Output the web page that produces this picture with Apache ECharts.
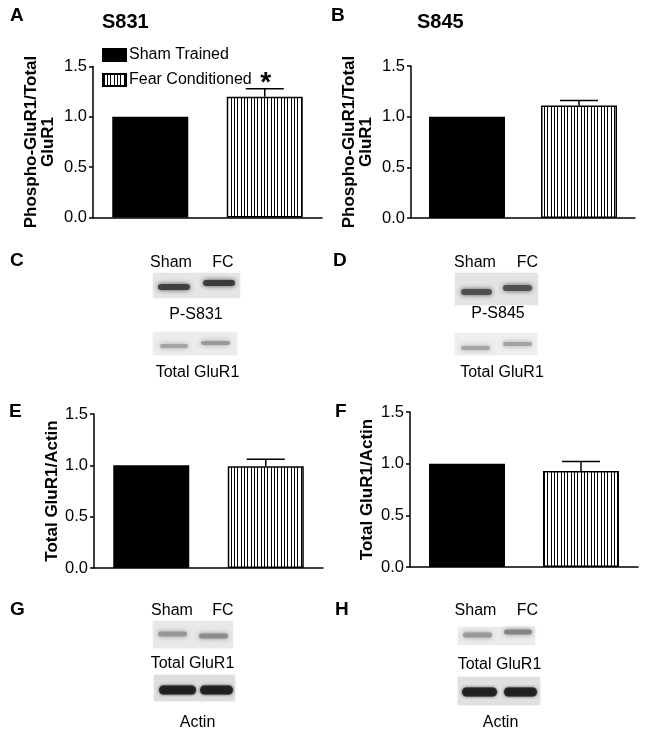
<!DOCTYPE html>
<html><head><meta charset="utf-8">
<script src="https://cdn.jsdelivr.net/npm/echarts@6/dist/echarts.min.js"></script>
<style>html,body{margin:0;padding:0;background:#fff}#c{width:649px;height:739px}</style>
</head><body><div id="c"></div><script>
// ---- data ----
const categories = ['Sham Trained', 'Fear Conditioned'];
const yTickLabels = ['0.0', '0.5', '1.0', '1.5'];
const panelLetters = ['A', 'B', 'C', 'D', 'E', 'F', 'G', 'H'];
const chartTitles = ['S831', 'S845'];
const yNames = ['Phospho-GluR1/Total\nGluR1', 'Phospho-GluR1/Total\nGluR1', 'Total GluR1/Actin', 'Total GluR1/Actin'];
// A: S831 phospho / total
const meanA = [1.0, 1.2];
const errA = [0, 0.08];
const sigA = ['', '*'];
// B: S845 phospho / total
const meanB = [1.0, 1.11];
const errB = [0, 0.05];
const sigB = ['', ''];
// E: total GluR1 / actin (S831 set)
const meanE = [1.0, 0.99];
const errE = [0, 0.07];
const sigE = ['', ''];
// F: total GluR1 / actin (S845 set)
const meanF = [1.0, 0.93];
const errF = [0, 0.09];
const sigF = ['', ''];
const laneLabels = ['Sham', 'FC'];

const FONT = '"Liberation Sans", Arial, Helvetica, sans-serif';

// hatch pattern
const hc = document.createElement('canvas'); hc.width = 10; hc.height = 10;
const hg = hc.getContext('2d');
hg.fillStyle = '#fff'; hg.fillRect(0, 0, 10, 10);
hg.fillStyle = '#000'; [1, 4, 7].forEach(x => hg.fillRect(x, 0, 1, 10));

const panels = [
  {mean: meanA, err: errA, sig: sigA, gap: 36, grid: {left: 93, top: 66.5, width: 229, height: 151}},
  {mean: meanB, err: errB, sig: sigB, gap: 36, grid: {left: 411, top: 66, width: 224, height: 152}},
  {mean: meanE, err: errE, sig: sigE, gap: 33, grid: {left: 94, top: 414, width: 229, height: 154}},
  {mean: meanF, err: errF, sig: sigF, gap: 34, grid: {left: 410, top: 412, width: 228, height: 155}}
];

const grids = [], xAxes = [], yAxes = [], series = [];
panels.forEach((p, i) => {
  grids.push(Object.assign({containLabel: false}, p.grid));
  xAxes.push({
    type: 'category', gridIndex: i, data: categories, boundaryGap: true,
    axisLine: {show: true, onZero: false, lineStyle: {color: '#000', width: 1.5}},
    axisTick: {show: false}, axisLabel: {show: false}, splitLine: {show: false}
  });
  yAxes.push({
    type: 'value', gridIndex: i, min: 0, max: 1.5, interval: 0.5,
    axisLine: {show: true, lineStyle: {color: '#000', width: 1.5}},
    axisTick: {show: true, inside: false, length: 4, lineStyle: {color: '#000', width: 1.5}},
    splitLine: {show: false},
    axisLabel: {color: '#000', fontSize: 16.5, fontFamily: FONT, margin: 6,
      formatter: v => yTickLabels[Math.round(v / 0.5)]},
    name: yNames[i], nameLocation: 'middle', nameRotate: 90, nameGap: p.gap,
    nameTextStyle: {color: '#000', fontSize: 17, fontWeight: 'bold', fontFamily: FONT, lineHeight: 17}
  });
  series.push({
    type: 'bar', name: categories[0], xAxisIndex: i, yAxisIndex: i,
    data: [p.mean[0], '-'], barWidth: 76, barGap: '-100%',
    itemStyle: {color: '#000', borderColor: '#000', borderWidth: 1.5},
    emphasis: {disabled: true}, animation: false
  });
  series.push({
    type: 'bar', name: categories[1], xAxisIndex: i, yAxisIndex: i,
    data: ['-', p.mean[1]], barWidth: 76, barGap: '-100%',
    itemStyle: {color: {image: hc, repeat: 'repeat'}, borderColor: '#000', borderWidth: 1.5},
    emphasis: {disabled: true}, animation: false
  });
  series.push({
    type: 'custom', xAxisIndex: i, yAxisIndex: i, silent: true, animation: false,
    data: p.mean.map((m, j) => [j, m, p.err[j]]),
    renderItem: (params, api) => {
      const j = api.value(0), m = api.value(1), e = api.value(2);
      const sig = p.sig[j];
      const children = [];
      const base = api.coord([j, m]);
      const top = api.coord([j, m + e]);
      if (e > 0) {
        const half = 19;
        children.push({type: 'line', shape: {x1: top[0], y1: base[1], x2: top[0], y2: top[1]},
          style: {stroke: '#000', lineWidth: 1.5}});
        children.push({type: 'line', shape: {x1: top[0] - half, y1: top[1], x2: top[0] + half, y2: top[1]},
          style: {stroke: '#000', lineWidth: 1.5}});
      }
      if (sig) {
        children.push({type: 'text', x: top[0] + 1, y: top[1] - 5,
          style: {text: sig, fill: '#000', font: 'bold 28px ' + FONT, textAlign: 'center', textVerticalAlign: 'middle'}});
      }
      return {type: 'group', children};
    }
  });
});

// ---- decorative text & blot images ----
const gfx = [];
function txt(t, x, y, size, bold, align) {
  gfx.push({type: 'text', x, y, silent: true,
    style: {text: t, fill: '#000', font: (bold ? 'bold ' : '') + size + 'px ' + FONT,
      textAlign: align || 'center', textVerticalAlign: 'middle'}});
}
function blot(x, y, w, h, bg, bands) {
  gfx.push({type: 'rect', silent: true, shape: {x, y, width: w, height: h},
    style: {fill: bg, shadowBlur: 2, shadowColor: bg}});
  bands.forEach(b => {
    gfx.push({type: 'rect', silent: true,
      shape: {x: b[0], y: b[1] - b[3] / 2, width: b[2], height: b[3], r: b[3] / 2},
      style: {fill: b[4], shadowBlur: b[5] || 5, shadowColor: b[4], opacity: 0.9}});
  });
}
// panel letters
[[10, 16], [331, 16], [10, 261], [333, 261], [9, 412], [335, 412], [10, 610], [335, 610]].forEach((p, k) => {
  txt(panelLetters[k], p[0], p[1], 19, true, 'left');
});
// titles
txt(chartTitles[0], 102, 22, 20, true, 'left');
txt(chartTitles[1], 417, 22, 20, true, 'left');

// C
blot(153, 273, 87, 25, '#e6e6e6', [[158, 287, 32, 6, '#3a3a3a'], [203, 283, 32, 6, '#333']]);
blot(153, 332, 84, 23, '#ececec', [[160, 346, 28, 4, '#a0a0a0'], [201, 343, 29, 4, '#959595']]);
txt(laneLabels[0], 171, 263, 16); txt(laneLabels[1], 223, 263, 16);
txt('P-S831', 196, 315, 16);
txt('Total GluR1', 197.5, 373, 16);
// D
blot(455, 273, 83, 32, '#e4e4e4', [[461, 292, 31, 6, '#4a4a4a'], [503, 288, 29, 6, '#4a4a4a']]);
blot(455, 333, 82, 22, '#eeeeee', [[461, 348, 29, 4, '#a0a0a0'], [503, 344, 29, 4, '#9e9e9e']]);
txt(laneLabels[0], 475, 263, 16); txt(laneLabels[1], 527.5, 263, 16);
txt('P-S845', 498, 314, 16);
txt('Total GluR1', 502, 373, 16);
// G
blot(153, 621, 80, 27, '#e8e8e8', [[158, 634, 29, 5, '#939393'], [199, 636, 29, 5, '#888']]);
blot(154, 675, 81, 26, '#dedede', [[159, 690, 37, 9, '#1e1e1e', 3], [200, 690, 33, 9, '#1e1e1e', 3]]);
txt(laneLabels[0], 172, 611, 16); txt(laneLabels[1], 223, 611, 16);
txt('Total GluR1', 192.5, 664, 16);
txt('Actin', 197.5, 723, 16);
// H
blot(458, 627, 77, 18, '#ececec', [[463, 635, 29, 5, '#939393'], [504, 632, 28, 5, '#808080']]);
blot(458, 677, 82, 28, '#e0e0e0', [[462, 692, 35, 9, '#1e1e1e', 3], [504, 692, 33, 9, '#1e1e1e', 3]]);
txt(laneLabels[0], 475.5, 611, 16); txt(laneLabels[1], 527.5, 611, 16);
txt('Total GluR1', 499.5, 665, 16);
txt('Actin', 500.5, 723, 16);

const chart = echarts.init(document.getElementById('c'), null, {renderer: 'canvas'});
chart.setOption({
  backgroundColor: '#fff',
  animation: false,
  legend: {
    data: categories, orient: 'vertical', left: 102, top: 47, padding: 0,
    itemWidth: 23, itemHeight: 12, itemGap: 9, icon: 'rect',
    selectedMode: false,
    textStyle: {color: '#000', fontSize: 16, fontFamily: FONT, padding: [0, 0, 0, -2]}
  },
  grid: grids, xAxis: xAxes, yAxis: yAxes, series: series,
  graphic: gfx
});
</script></body></html>
